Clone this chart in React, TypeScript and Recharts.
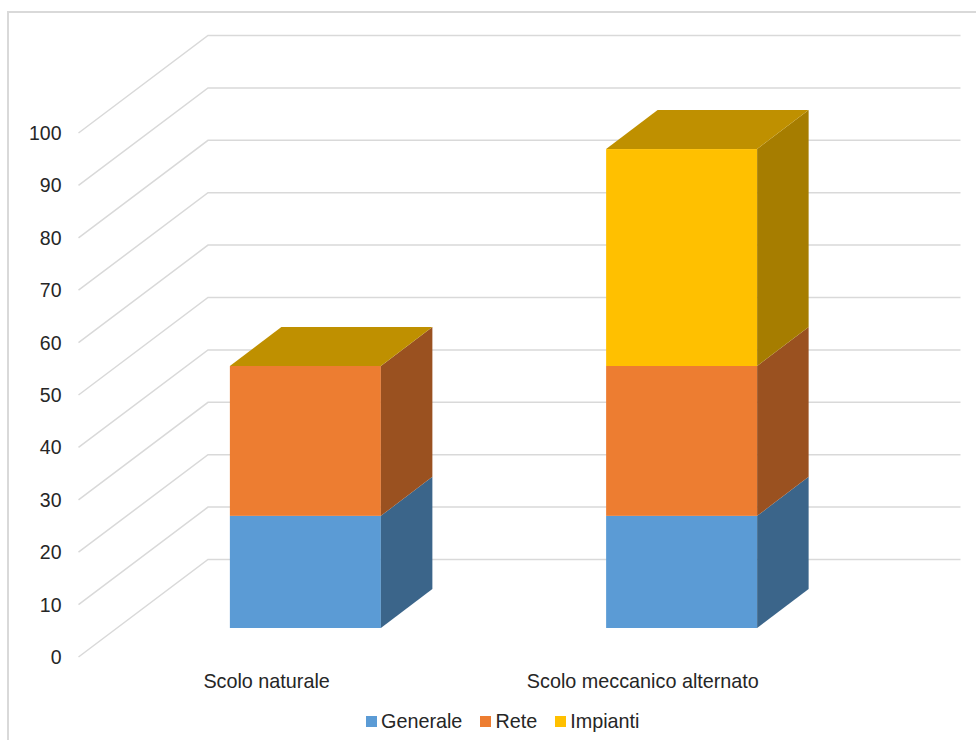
import { Bar, BarChart, CartesianGrid, Legend, XAxis, YAxis } from 'recharts'

const categories = ['Scolo naturale', 'Scolo meccanico alternato']
const generale = [21.4, 21.4]
const rete = [28.6, 28.6]
const impianti = [0, 41.4]
const yTicks = [0, 10, 20, 30, 40, 50, 60, 70, 80, 90, 100]

const data = categories.map((name, i) => ({
	name,
	Generale: generale[i],
	Rete: rete[i],
	Impianti: impianti[i],
}))

const FONT = '"Liberation Sans", Arial, sans-serif'
const TEXT = '#262626'
const GRID = '#d9d9d9'

// depth of the whole 3D box, and where the columns sit inside it
const WALL_DX = 129.5
const WALL_DY = -97.5
const BAR_OFFSET_X = 38.5
const BAR_OFFSET_Y = -29
const BAR_DX = 51.5
const BAR_DY = -39

// only the last series of the stack shows a top face, even at zero height
const colors = {
	Generale: { front: '#5b9bd5', side: '#3b658a' },
	Rete: { front: '#ed7d31', side: '#9a5120' },
	Impianti: { front: '#ffc000', side: '#a67d00', top: '#bf9000' },
}

const Column3D = (props: any) => {
	const { x, y, width, height, palette } = props
	const left = x + BAR_OFFSET_X
	const right = left + width
	const top = y + BAR_OFFSET_Y
	const bottom = top + height
	return <g>
		{height > 0 && <rect x={left} y={top} width={width} height={height} fill={palette.front} />}
		{height > 0 && <polygon
			points={`${right},${top} ${right + BAR_DX},${top + BAR_DY} ${right + BAR_DX},${bottom + BAR_DY} ${right},${bottom}`}
			fill={palette.side} />}
		{palette.top && <polygon
			points={`${left},${top} ${left + BAR_DX},${top + BAR_DY} ${right + BAR_DX},${top + BAR_DY} ${right},${top}`}
			fill={palette.top} />}
	</g>
}

// each grid line runs along the side wall, then across the back wall
const WallLine = (props: any) => {
	const { x1, x2, y1, index } = props
	const backX = x1 + WALL_DX
	const backY = y1 + WALL_DY
	return <polyline key={index}
		points={`${x1},${y1} ${backX},${backY} ${x2 + WALL_DX},${backY}`}
		fill='none' stroke={GRID} strokeWidth={1.5} />
}

const LegendRow = () => <div style={{
	display: 'flex', height: 24, paddingLeft: 366, alignItems: 'center',
	fontFamily: FONT, fontSize: 19.8, color: TEXT,
}}>
	{Object.keys(colors).map(name => <div key={name} style={{ display: 'flex', alignItems: 'center', marginRight: 18 }}>
		<span style={{ width: 10.5, height: 11, marginRight: 4.5, background: colors[name].front }} />
		<span>{name}</span>
	</div>)}
</div>

export default function App() {
	return <div style={{ position: 'absolute', left: 0, top: 0, width: 976, height: 740, background: '#fff', overflow: 'hidden' }}>
		<div style={{ position: 'absolute', left: 7, top: 11, right: 0, bottom: 0, borderLeft: `2px solid ${GRID}`, borderTop: `2px solid ${GRID}` }} />
		<BarChart width={976} height={740} data={data} barCategoryGap='30%'
							margin={{ top: 133, right: 145, bottom: 7, left: 0 }}>
			<CartesianGrid vertical={false} horizontal={WallLine} />
			<XAxis dataKey='name' axisLine={false} tickLine={false} height={52} tickMargin={11}
						 tick={{ fontFamily: FONT, fontSize: 19.8, fill: TEXT }} />
			<YAxis type='number' domain={[0, 100]} ticks={yTicks} width={78.5} axisLine={false} tickLine={false} tickMargin={11}
						 tick={{ fontFamily: FONT, fontSize: 19.5, fill: TEXT }} />
			<Legend verticalAlign='bottom' content={<LegendRow />} wrapperStyle={{ left: 0, width: 976, bottom: 7 }} />
			<Bar dataKey='Generale' stackId='a' fill={colors.Generale.front} isAnimationActive={false}
					 shape={<Column3D palette={colors.Generale} />} />
			<Bar dataKey='Rete' stackId='a' fill={colors.Rete.front} isAnimationActive={false}
					 shape={<Column3D palette={colors.Rete} />} />
			<Bar dataKey='Impianti' stackId='a' fill={colors.Impianti.front} isAnimationActive={false}
					 shape={<Column3D palette={colors.Impianti} />} />
		</BarChart>
	</div>
}
